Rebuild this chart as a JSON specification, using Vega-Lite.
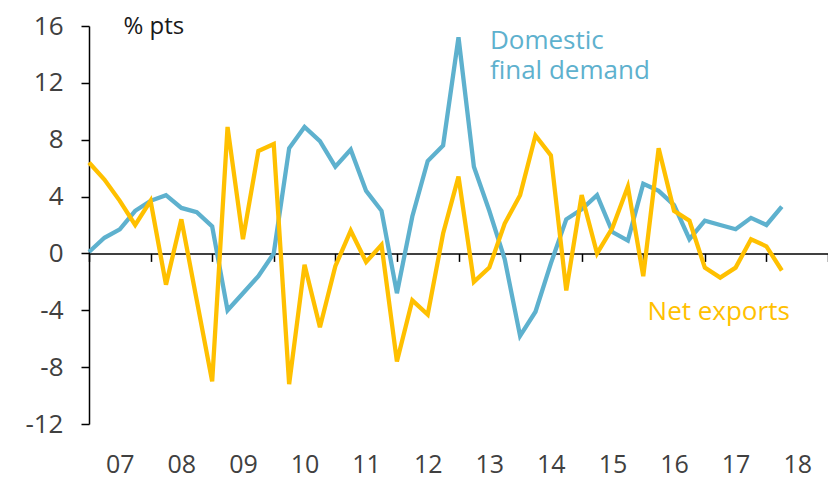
{
  "$schema": "https://vega.github.io/schema/vega-lite/v6.json",
  "width": 739,
  "height": 398,
  "autosize": {"type": "none"},
  "padding": {"left": 89, "top": 26, "right": 0, "bottom": 54},
  "background": "white",
  "config": {"view": {"stroke": null}, "font": "Open Sans"},
  "datasets": {
    "series": [
      {"t": 2007.00, "Domestic final demand": 0.1, "Net exports": 6.4},
      {"t": 2007.25, "Domestic final demand": 1.1, "Net exports": 5.2},
      {"t": 2007.50, "Domestic final demand": 1.7, "Net exports": 3.7},
      {"t": 2007.75, "Domestic final demand": 3.0, "Net exports": 2.0},
      {"t": 2008.00, "Domestic final demand": 3.7, "Net exports": 3.7},
      {"t": 2008.25, "Domestic final demand": 4.1, "Net exports": -2.2},
      {"t": 2008.50, "Domestic final demand": 3.2, "Net exports": 2.4},
      {"t": 2008.75, "Domestic final demand": 2.9, "Net exports": -3.3},
      {"t": 2009.00, "Domestic final demand": 1.9, "Net exports": -9.0},
      {"t": 2009.25, "Domestic final demand": -4.0, "Net exports": 8.9},
      {"t": 2009.50, "Domestic final demand": -2.8, "Net exports": 1.0},
      {"t": 2009.75, "Domestic final demand": -1.6, "Net exports": 7.2},
      {"t": 2010.00, "Domestic final demand": 0.0, "Net exports": 7.7},
      {"t": 2010.25, "Domestic final demand": 7.4, "Net exports": -9.2},
      {"t": 2010.50, "Domestic final demand": 8.9, "Net exports": -0.8},
      {"t": 2010.75, "Domestic final demand": 7.9, "Net exports": -5.2},
      {"t": 2011.00, "Domestic final demand": 6.1, "Net exports": -0.9},
      {"t": 2011.25, "Domestic final demand": 7.3, "Net exports": 1.6},
      {"t": 2011.50, "Domestic final demand": 4.4, "Net exports": -0.6},
      {"t": 2011.75, "Domestic final demand": 3.0, "Net exports": 0.6},
      {"t": 2012.00, "Domestic final demand": -2.8, "Net exports": -7.6},
      {"t": 2012.25, "Domestic final demand": 2.6, "Net exports": -3.3},
      {"t": 2012.50, "Domestic final demand": 6.5, "Net exports": -4.3},
      {"t": 2012.75, "Domestic final demand": 7.6, "Net exports": 1.4},
      {"t": 2013.00, "Domestic final demand": 15.2, "Net exports": 5.4},
      {"t": 2013.25, "Domestic final demand": 6.1, "Net exports": -2.0},
      {"t": 2013.50, "Domestic final demand": 3.0, "Net exports": -1.0},
      {"t": 2013.75, "Domestic final demand": -0.4, "Net exports": 2.1},
      {"t": 2014.00, "Domestic final demand": -5.8, "Net exports": 4.1},
      {"t": 2014.25, "Domestic final demand": -4.1, "Net exports": 8.3},
      {"t": 2014.50, "Domestic final demand": -0.7, "Net exports": 6.9},
      {"t": 2014.75, "Domestic final demand": 2.4, "Net exports": -2.6},
      {"t": 2015.00, "Domestic final demand": 3.1, "Net exports": 4.1},
      {"t": 2015.25, "Domestic final demand": 4.1, "Net exports": 0.0},
      {"t": 2015.50, "Domestic final demand": 1.5, "Net exports": 1.8},
      {"t": 2015.75, "Domestic final demand": 0.9, "Net exports": 4.7},
      {"t": 2016.00, "Domestic final demand": 4.9, "Net exports": -1.6},
      {"t": 2016.25, "Domestic final demand": 4.4, "Net exports": 7.4},
      {"t": 2016.50, "Domestic final demand": 3.4, "Net exports": 3.0},
      {"t": 2016.75, "Domestic final demand": 1.0, "Net exports": 2.3},
      {"t": 2017.00, "Domestic final demand": 2.3, "Net exports": -1.0},
      {"t": 2017.25, "Domestic final demand": 2.0, "Net exports": -1.7},
      {"t": 2017.50, "Domestic final demand": 1.7, "Net exports": -1.0},
      {"t": 2017.75, "Domestic final demand": 2.5, "Net exports": 1.0},
      {"t": 2018.00, "Domestic final demand": 2.0, "Net exports": 0.5},
      {"t": 2018.25, "Domestic final demand": 3.3, "Net exports": -1.2}
    ],
    "notes": [
      {"t": 2013.51, "value": 14.35, "series": "Domestic final demand", "label": "Domestic\nfinal demand"},
      {"t": 2016.07, "value": -4.68, "series": "Net exports", "label": "Net exports"}
    ]
  },
  "layer": [
    {
      "data": {"name": "series"},
      "transform": [{"fold": ["Domestic final demand", "Net exports"], "as": ["series", "value"]}],
      "mark": {"type": "line", "strokeWidth": 4.3},
      "encoding": {
        "x": {
          "field": "t", "type": "quantitative",
          "scale": {"domain": [2007, 2019], "nice": false, "zero": false},
          "axis": {
            "orient": "bottom", "offset": -170.6, "title": null,
            "values": [2007, 2008, 2009, 2010, 2011, 2012, 2013, 2014, 2015, 2016, 2017, 2018, 2019],
            "labels": false, "grid": false, "ticks": true, "tickSize": 8,
            "tickColor": "#000000", "tickWidth": 1.5,
            "domainColor": "#000000", "domainWidth": 1.5
          }
        },
        "y": {
          "field": "value", "type": "quantitative",
          "scale": {"domain": [-12, 16], "nice": false, "zero": false},
          "axis": {
            "title": "% pts", "titleAngle": 0, "titleAlign": "left", "titleBaseline": "alphabetic",
            "titleX": 34, "titleY": 7, "titleFontSize": 24, "titleFontWeight": "normal", "titleColor": "#1a1a1a",
            "values": [-12, -8, -4, 0, 4, 8, 12, 16], "grid": false,
            "labelExpr": "toString(datum.value)",
            "tickSize": 8, "tickColor": "#000000", "tickWidth": 1.5,
            "domainColor": "#000000", "domainWidth": 1.5,
            "labelFontSize": 26, "labelColor": "#404040", "labelPadding": 18
          }
        },
        "color": {
          "field": "series", "type": "nominal",
          "scale": {"domain": ["Domestic final demand", "Net exports"], "range": ["#5EB1CE", "#FFC000"]},
          "legend": null
        }
      }
    },
    {
      "data": {"name": "notes"},
      "mark": {"type": "text", "align": "left", "baseline": "alphabetic", "fontSize": 26, "lineBreak": "\n", "lineHeight": 30},
      "encoding": {
        "x": {
          "field": "t", "type": "quantitative",
          "scale": {"domain": [2007, 2019], "nice": false, "zero": false},
          "axis": {
            "orient": "bottom", "title": null,
            "values": [2007.5, 2008.5, 2009.5, 2010.5, 2011.5, 2012.5, 2013.5, 2014.5, 2015.5, 2016.5, 2017.5, 2018.5],
            "labelExpr": "substring(toString(floor(datum.value)), 2, 4)",
            "domain": false, "ticks": false, "grid": false,
            "labelFontSize": 25, "labelColor": "#404040", "labelPadding": 28
          }
        },
        "y": {
          "field": "value", "type": "quantitative",
          "scale": {"domain": [-12, 16], "nice": false, "zero": false},
          "axis": {
            "title": "% pts", "titleAngle": 0, "titleAlign": "left", "titleBaseline": "alphabetic",
            "titleX": 34, "titleY": 7, "titleFontSize": 24, "titleFontWeight": "normal", "titleColor": "#1a1a1a",
            "values": [-12, -8, -4, 0, 4, 8, 12, 16], "grid": false,
            "labelExpr": "toString(datum.value)",
            "tickSize": 8, "tickColor": "#000000", "tickWidth": 1.5,
            "domainColor": "#000000", "domainWidth": 1.5,
            "labelFontSize": 26, "labelColor": "#404040", "labelPadding": 18
          }
        },
        "text": {"field": "label"},
        "color": {"field": "series", "type": "nominal", "legend": null}
      }
    }
  ],
  "resolve": {"axis": {"x": "independent"}}
}
